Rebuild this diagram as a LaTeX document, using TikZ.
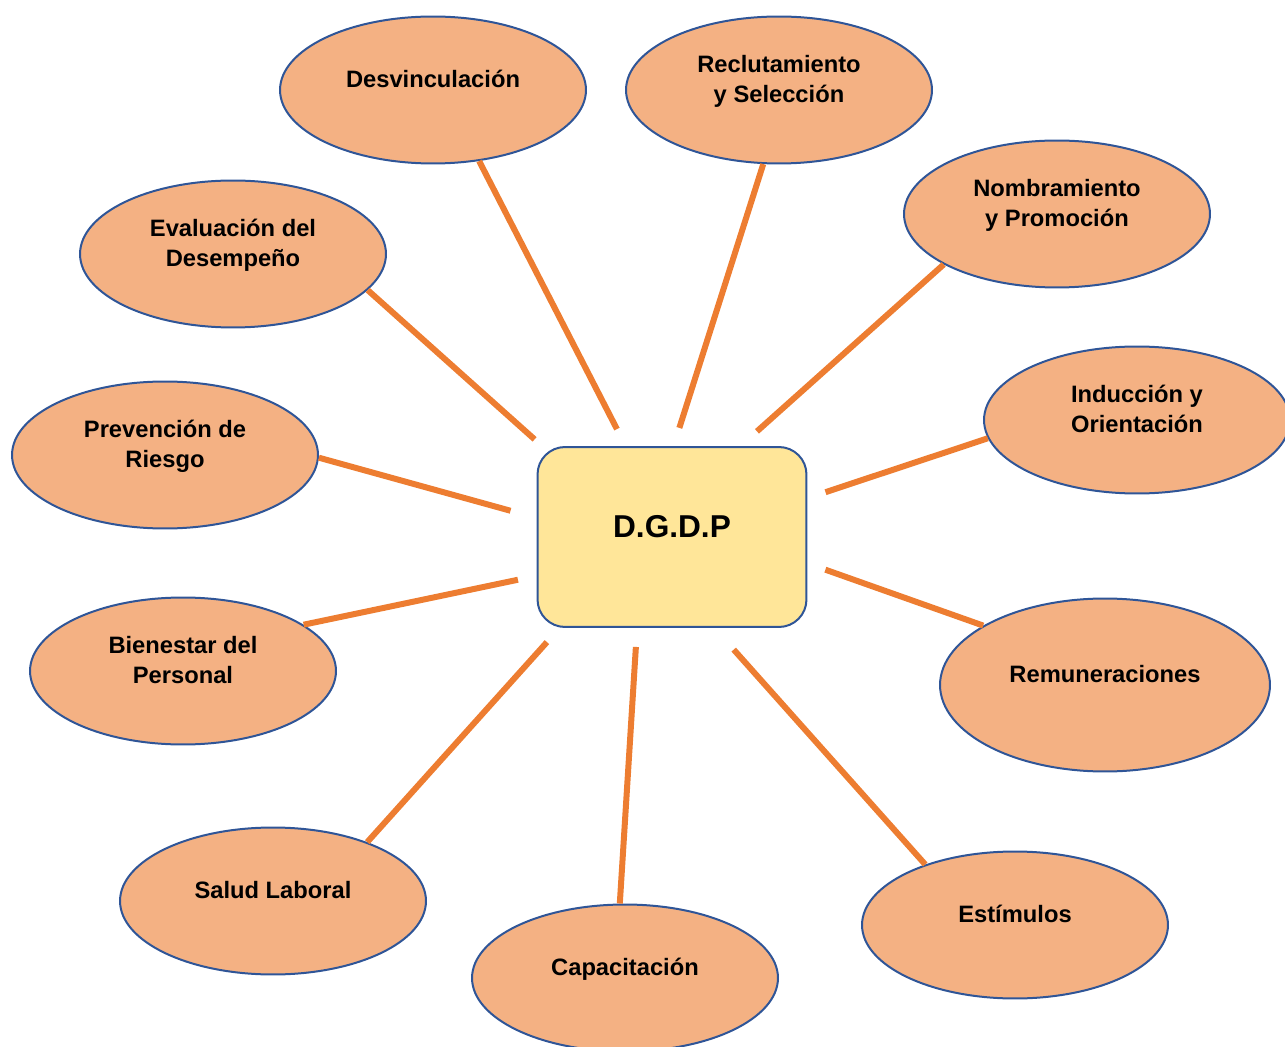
\documentclass[tikz,border=0pt]{standalone}
\usepackage{fontspec}
\setmainfont{Liberation Sans}
\usepackage{xcolor}
\usepackage{tikz}
\usetikzlibrary{shapes.geometric}
\definecolor{areafill}{HTML}{F4B183}
\definecolor{areaedge}{HTML}{2F5597}
\definecolor{hubfill}{HTML}{FFE699}
\definecolor{spokecol}{HTML}{ED7D31}

\begin{document}
\begin{tikzpicture}[x=0.02cm, y=-0.02cm,
  area/.style={draw=areaedge, fill=areafill, ellipse, line width=0.04cm, minimum width=6.12cm, minimum height=2.94cm, align=center, font=\bfseries\fontsize{13.5}{17}\selectfont, text height=0.4cm, text depth=0.5cm},
  twoline/.style={text height=0.9cm, text depth=0.4cm},
  hub/.style={draw=areaedge, fill=hubfill, rectangle, rounded corners=0.55cm, line width=0.04cm, minimum width=5.38cm, minimum height=3.6cm, font=\bfseries\fontsize{18}{22}\selectfont, text height=0.3cm, text depth=0.3cm},
  spoke/.style={draw=spokecol, line width=0.12cm, shorten >=0.38cm}]
\useasboundingbox (0,0) rectangle (1285,1047);

\node[hub] (dgdp) at (672,537) {D.G.D.P};

\node[area] (desv) at (433,90) {Desvinculación};
\node[area, twoline] (recl) at (779,90) {Reclutamiento\\y Selección};
\node[area, twoline] (nomb) at (1057,214) {Nombramiento\\y Promoción};
\node[area, twoline] (indu) at (1137,420) {Inducción y\\Orientación};
\node[area, minimum width=6.6cm, minimum height=3.46cm] (remu) at (1105,685) {Remuneraciones};
\node[area] (esti) at (1015,925) {Estímulos};
\node[area] (capa) at (625,978) {Capacitación};
\node[area] (salu) at (273,901) {Salud Laboral};
\node[area, twoline] (bien) at (183,671) {Bienestar del\\Personal};
\node[area, twoline] (prev) at (165,455) {Prevención de\\Riesgo};
\node[area, twoline] (eval) at (233,254) {Evaluación del\\Desempeño};

\draw[spoke] (desv.-57) -- (dgdp.117.6);
\draw[spoke] (recl.-102.5) -- (dgdp.89.4);
\draw[spoke, shorten >=0.44cm] (nomb.204) -- (dgdp.53.2);
\draw[spoke] (indu.187) -- (dgdp.16.2);
\draw[spoke] (remu.154.7) -- (dgdp.-11.2);
\draw[spoke, shorten >=0.58cm] (esti.146) -- (dgdp.-65.3);
\draw[spoke] (capa.94) -- (dgdp.-111.6);
\draw[spoke] (salu.32.4) -- (dgdp.-141.1);
\draw[spoke] (bien.21.4) -- (dgdp.196.8);
\draw[spoke, shorten >=0.54cm] (prev.-1.8) -- (dgdp.172.3);
\draw[spoke, shorten >=0.2cm] (eval.-15.3) -- (dgdp.145);
\end{tikzpicture}
\end{document}
